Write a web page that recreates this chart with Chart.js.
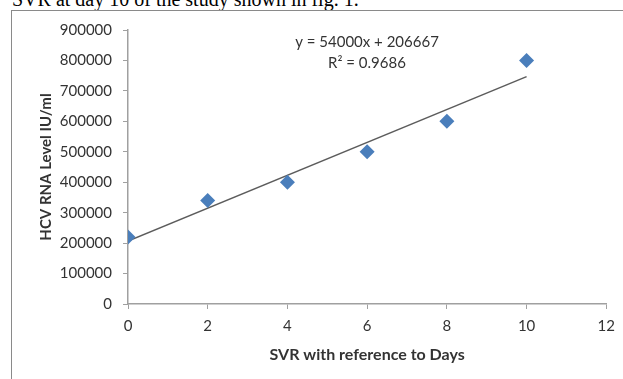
<!DOCTYPE html>
<html>
<head>
<meta charset="utf-8">
<script src="https://cdn.jsdelivr.net/npm/chart.js@4/dist/chart.umd.min.js"></script>
<style>
  html, body { margin: 0; padding: 0; background: #fff; }
  #wrap { position: relative; width: 623px; height: 379px; overflow: hidden; }
  #caption { position: absolute; left: 12px; top: -11px; font: 20px "Liberation Serif", serif; color: #000; white-space: nowrap; line-height: 20px; }
  #frame { position: absolute; left: 11px; top: 10px; width: 640px; height: 400px; border-left: 1.5px solid #8a8a8a; border-top: 1.5px solid #8a8a8a; }
  canvas { position: absolute; left: 0; top: 0; }
</style>
</head>
<body>
<div id="wrap">
  <div id="caption">SVR at day 10 of the study shown in fig. 1.</div>
  <div id="frame"></div>
  <canvas id="chart" width="623" height="379"></canvas>
</div>
<script>
// data
const days = [0, 2, 4, 6, 8, 10];
const hcvLevels = [220000, 340000, 400000, 500000, 600000, 800000];
const yTicks = [0, 100000, 200000, 300000, 400000, 500000, 600000, 700000, 800000, 900000];
const xTicks = [0, 2, 4, 6, 8, 10, 12];
// linear trendline as printed on the chart
const slope = 54000;
const intercept = 206667;
const equationLines = ['y = 54000x + 206667', 'R² = 0.9686'];

const trend = [days[0], days[days.length - 1]].map(x => ({ x, y: slope * x + intercept }));
const family = 'Lato, "Open Sans", sans-serif';
const tickFont = { family, size: 15 };
const textColor = '#333333';

// draws the trendline equation inside the plot
const equationLabel = {
    id: 'equationLabel',
    afterDatasetsDraw(chart) {
        const { ctx } = chart;
        ctx.save();
        ctx.fillStyle = textColor;
        ctx.font = '15px ' + family;
        ctx.textAlign = 'center';
        ctx.textBaseline = 'middle';
        ctx.fillText(equationLines[0], 367, 42);
        ctx.fillText(equationLines[1], 367, 63);
        ctx.restore();
    }
};

new Chart(document.getElementById('chart').getContext('2d'), {
    type: 'scatter',
    data: {
        datasets: [
            {
                label: 'HCV RNA',
                data: days.map((d, i) => ({ x: d, y: hcvLevels[i] })),
                pointStyle: 'rectRot',
                pointRadius: 7.5,
                backgroundColor: '#4a7ebb',
                borderColor: '#4a7ebb',
                borderWidth: 0,
                order: 1
            },
            {
                type: 'line',
                label: 'Linear',
                data: trend,
                borderColor: '#5c5c5c',
                borderWidth: 1.5,
                pointRadius: 0,
                fill: false,
                order: 2
            }
        ]
    },
    options: {
        responsive: false,
        animation: false,
        layout: { padding: { left: 12, top: 30, right: 16, bottom: 0 } },
        plugins: { legend: { display: false }, tooltip: { enabled: false } },
        scales: {
            x: {
                type: 'linear',
                min: 0, max: 12,
                afterBuildTicks: s => { s.ticks = xTicks.map(v => ({ value: v })); },
                afterFit: s => { s.height = 75; },
                grid: { drawOnChartArea: false, tickLength: 5, color: '#a0a0a0' },
                border: { color: '#a0a0a0', width: 1.5 },
                ticks: { font: tickFont, color: textColor, padding: 8, maxRotation: 0, callback: v => String(v) },
                title: { display: true, text: 'SVR with reference to Days', color: textColor,
                    font: { family, size: 16, weight: 'bold' }, padding: { top: 0, bottom: 15 } }
            },
            y: {
                min: 0, max: 900000,
                afterBuildTicks: s => { s.ticks = yTicks.map(v => ({ value: v })); },
                afterFit: s => { s.width = 116; },
                grid: { drawOnChartArea: false, tickLength: 5, color: '#a0a0a0' },
                border: { color: '#a0a0a0', width: 1.5 },
                ticks: { font: tickFont, color: textColor, padding: 11, callback: v => String(v) },
                title: { display: true, text: 'HCV RNA Level IU/ml', color: textColor,
                    font: { family, size: 15, weight: 'bold' }, padding: { top: 25, bottom: 0 } }
            }
        }
    },
    plugins: [equationLabel]
});
</script>
</body>
</html>
